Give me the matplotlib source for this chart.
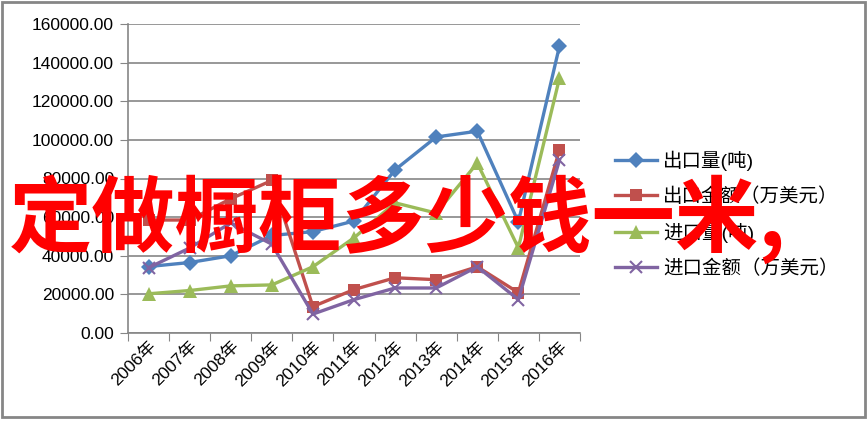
import matplotlib
matplotlib.use("Agg")
import matplotlib.pyplot as plt
from matplotlib.patches import Rectangle

plt.rcParams['font.family'] = ['Liberation Sans', 'Noto Sans CJK SC', 'DejaVu Sans']

# data
years = ['2006年', '2007年', '2008年', '2009年', '2010年', '2011年',
         '2012年', '2013年', '2014年', '2015年', '2016年']
export_qty = [34400, 36500, 40000, 50500, 52500, 58000, 84500, 101500, 104500, 57500, 148500]
export_amt = [58500, 58500, 69500, 79000, 13700, 22500, 28600, 27600, 34300, 20900, 94700]
import_qty = [20300, 22000, 24400, 24900, 34300, 49300, 67400, 62100, 88000, 44100, 131900]
import_amt = [33800, 44000, 57000, 46000, 9800, 17300, 23300, 23300, 34300, 17300, 89500]

names = ['出口量(吨)', '出口金额（万美元）', '进口量(吨)', '进口金额（万美元）']
colors = ['#4F81BD', '#C0504D', '#9BBB59', '#8064A2']
markers = ['D', 's', '^', 'x']
msizes = [8, 9, 10, 9]

fig = plt.figure(figsize=(8.67, 4.25), dpi=100)
ax = fig.add_axes([128/867, 1-333/425, (580-128)/867, (333-24)/425])

x = range(len(years))
for vals, name, c, m, ms in zip([export_qty, export_amt, import_qty, import_amt],
                                names, colors, markers, msizes):
    ax.plot(x, vals, color=c, lw=2.4, marker=m, ms=ms, mew=1.5 if m == 'x' else 0,
            mec=c, label=name, zorder=3)

ax.set_xlim(-0.5, len(years) - 0.5)
ax.set_ylim(0, 160000)
ax.set_yticks(range(0, 160001, 20000))
ax.set_yticklabels(['%.2f' % v for v in range(0, 160001, 20000)], fontsize=12.5)
ax.yaxis.grid(True, color='#868686', lw=1.2)
ax.set_axisbelow(True)

# category boundaries get the tick marks, labels sit at the centres
ax.set_xticks([i - 0.5 for i in range(len(years) + 1)])
ax.set_xticklabels([])
ax.set_xticks(list(x), minor=True)
ax.set_xticklabels(years, minor=True, rotation=45, ha='right', rotation_mode='anchor',
                   fontsize=12.5)
ax.tick_params(axis='x', which='minor', length=0, pad=4)
ax.tick_params(axis='x', which='major', length=6, color='#868686')
ax.tick_params(axis='y', length=6, color='#868686', pad=4)

for s in ['top', 'right']:
    ax.spines[s].set_visible(False)
for s in ['left', 'bottom']:
    ax.spines[s].set_color('#868686')
    ax.spines[s].set_linewidth(1.2)

fig.legend(loc='upper left', bbox_to_anchor=(597/867, 1-133/425), frameon=False,
           fontsize=14, handlelength=2.2, labelspacing=0.86, handletextpad=0.3)

# outer chart border
fig.add_artist(Rectangle((0.002, 0.018), 0.996, 0.978, transform=fig.transFigure,
                         fill=False, ec='#868686', lw=2))

# big red overlay text
fig.text(398/867, 1-219/425, '定做橱柜多少钱一米,', color='#FF0000', fontsize=60,
         fontweight='bold', ha='center', va='center',
         family=['Noto Sans CJK SC', 'DejaVu Sans'], zorder=10)

fig.savefig('out.png', dpi=100)
